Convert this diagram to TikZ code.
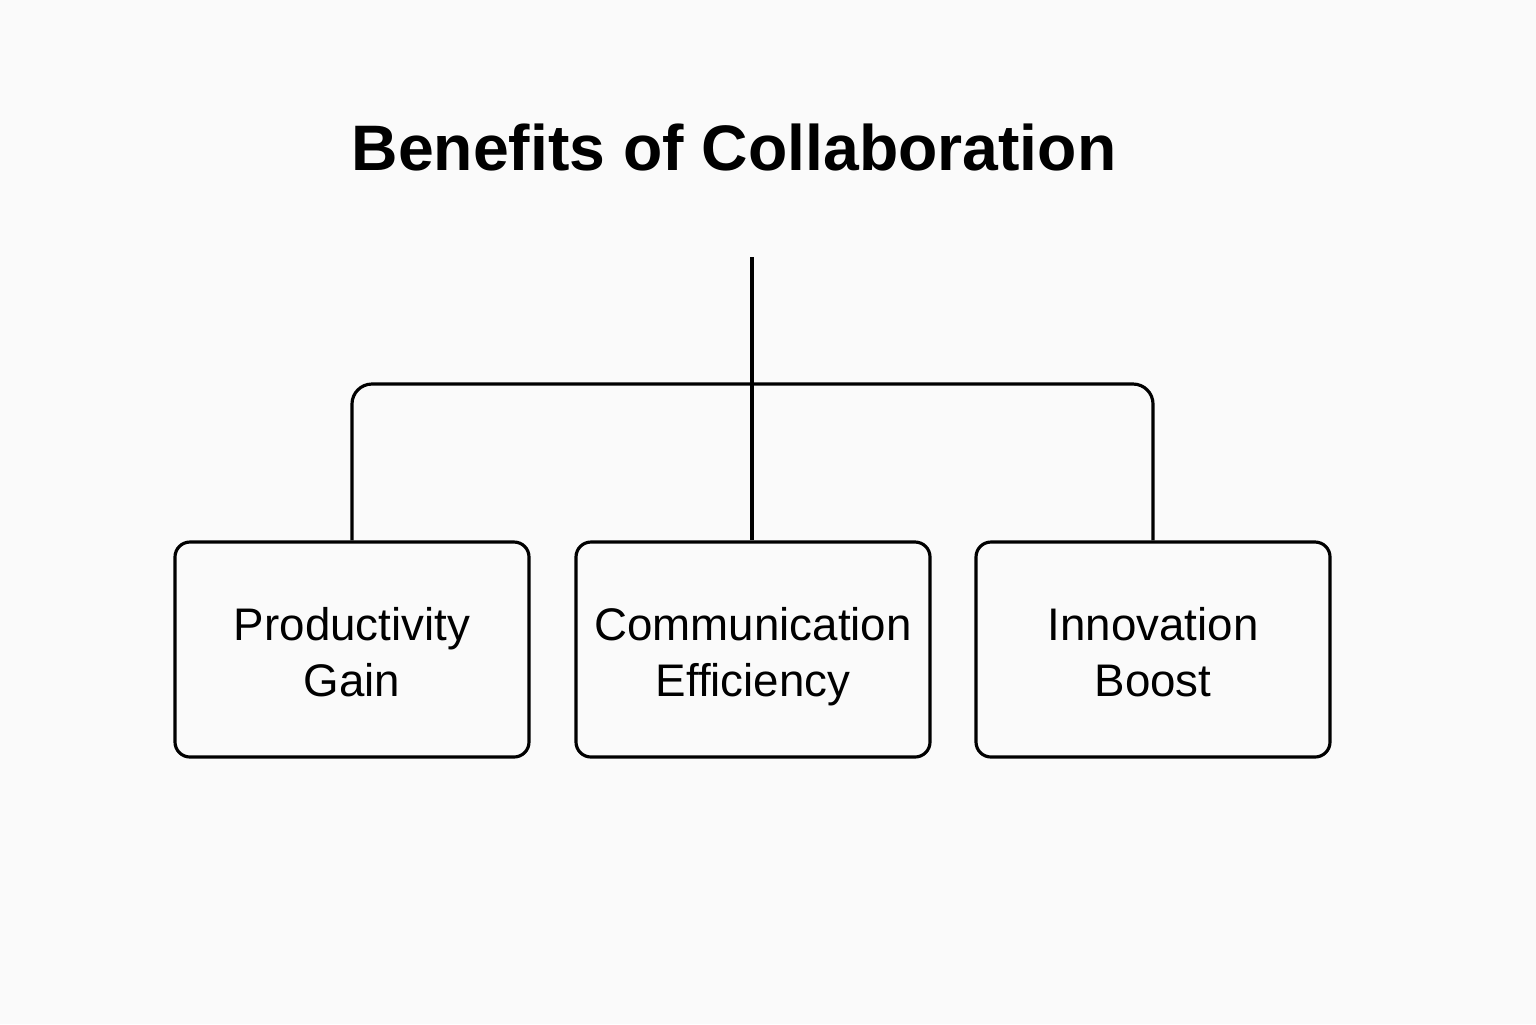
\documentclass[tikz,border=0pt]{standalone}
\usepackage{fontspec}
\setmainfont{Liberation Sans}
\definecolor{bgcol}{RGB}{250,250,250}
\newcommand{\twolines}[2]{\rule{0pt}{14pt}#1\\#2\rule[-3pt]{0pt}{3pt}}

\begin{document}
\begin{tikzpicture}[line width=0.9pt,
  box/.style={draw, rounded corners=0.15cm, minimum width=3.54cm, minimum height=2.15cm,
    align=center, font=\fontsize{13}{16}\selectfont}]
\useasboundingbox[fill=bgcol] (0,0) rectangle (15.36,-10.24);

\node (title) at (7.34,-1.48) {\fontsize{18.3}{22}\selectfont\bfseries Benefits of Collaboration};

\node[box] (prod) at (3.52,-6.495) {\twolines{Productivity}{Gain}};
\node[box] (comm) at (7.53,-6.495) {\twolines{Communication}{Efficiency}};
\node[box] (innov) at (11.53,-6.495) {\twolines{Innovation}{Boost}};

\coordinate (top) at (7.52,-2.57);
\draw (top) -- (top |- comm.north);
\draw[rounded corners=0.2cm] (prod.north) |- (7.52,-3.84) -| (innov.north);

\end{tikzpicture}
\end{document}
